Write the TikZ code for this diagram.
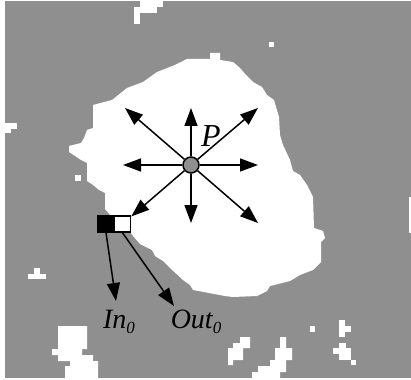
\documentclass[tikz,border=0pt]{standalone}
\usepackage{fontspec}
\setmainfont{Liberation Serif}
\usetikzlibrary{arrows.meta}
\definecolor{ground}{RGB}{143,143,143}
\newcommand\lowidx[1]{\raisebox{-5pt}{\fontsize{17}{17}\selectfont #1}}
\tikzset{
  ray/.style={line width=1.5pt,-{Triangle[length=18pt,width=13pt]}},
  cell/.style={draw,line width=1.5pt,minimum size=16pt,inner sep=0pt},
  lbl/.style={font=\fontsize{28}{30}\selectfont\itshape}
}

\begin{document}
\begin{tikzpicture}[x=1pt,y=-1pt]
\useasboundingbox (0,0) rectangle (411,379);
\fill[ground] (5,1) rectangle (411,378);
\fill[white] (409,197) rectangle (411,233);

% white specks
\fill[white] (134,7) rectangle (140,24);
\fill[white] (140,0) rectangle (157,13);
\fill[white] (157,0) rectangle (163,7);
\fill[white] (269,42) rectangle (274,47);
\fill[white] (5,123) rectangle (17,129);
\fill[white] (5,129) rectangle (11,133);
\fill[white] (75,175) rectangle (81,181);
\fill[white] (28,274) rectangle (46,279);
\fill[white] (34,268) rectangle (40,274);
\fill[white] (58,326) -- (87,326) -- (87,349) -- (82,349) -- (82,355) -- (93,355)
  -- (93,361) -- (98,361) -- (98,378) -- (65,378) -- (65,366) -- (70,366)
  -- (70,361) -- (58,361) -- (58,355) -- (52,355) -- (52,349) -- (58,349) -- cycle;
\fill[white] (240,337) -- (250,337) -- (250,348) -- (243,348) -- (243,360) -- (233,360)
  -- (233,365) -- (228,365) -- (228,348) -- (233,348) -- (233,343) -- (240,343) -- cycle;
\fill[white] (280,337) -- (286,337) -- (286,348) -- (292,348) -- (292,360) -- (286,360)
  -- (286,372) -- (280,372) -- (280,378) -- (252,378) -- (252,372) -- (258,372)
  -- (258,366) -- (270,366) -- (270,360) -- (275,360) -- (275,348) -- (280,348) -- cycle;
\fill[white] (310,326) rectangle (315,332);
\fill[white] (339,320) rectangle (345,337);
\fill[white] (345,326) rectangle (351,332);
\fill[white] (339,343) rectangle (346,348);
\fill[white] (333,348) rectangle (351,354);
\fill[white] (339,354) rectangle (351,360);
\fill[white] (351,360) rectangle (356,365);

% the region
\fill[white] (210,53) -- (220,53) -- (220,60) -- (233,62) -- (240,68) -- (246,75)
  -- (253,82) -- (262,87) -- (267,95) -- (274,100) -- (279,117) -- (280,135)
  -- (283,145) -- (290,160) -- (293,171) -- (300,175) -- (307,185) -- (313,197)
  -- (314,228) -- (323,231) -- (325,238) -- (321,242) -- (321,262) -- (313,270)
  -- (300,275) -- (290,281) -- (270,286) -- (267,291) -- (257,296) -- (233,297)
  -- (225,296) -- (193,290) -- (190,285) -- (183,280) -- (170,268) -- (163,261)
  -- (155,256) -- (152,250) -- (140,244) -- (133,236) -- (130,232) -- (130,215)
  -- (110,215) -- (105,209) -- (105,193) -- (99,190) -- (93,185) -- (87,181)
  -- (87,163) -- (81,160) -- (75,156) -- (69,152) -- (69,146) -- (81,143)
  -- (84,138) -- (87,130) -- (93,128) -- (93,105) -- (112,100) -- (127,88)
  -- (143,82) -- (157,72) -- (175,65) -- (187,59) -- (210,59) -- cycle;

\node[circle,draw,fill=ground,line width=1.5pt,minimum size=16pt,inner sep=0pt] (P) at (191,165) {};
\coordinate (tipN) at (191,108);
\coordinate (tipS) at (191,223);
\coordinate (tipW) at (123,165);
\coordinate (tipE) at (258,165);
\coordinate (tipNW) at (125,108);
\coordinate (tipNE) at (258,108);
\coordinate (tipSE) at (258,223);
\foreach \t in {tipN,tipS,tipW,tipE,tipNW,tipNE,tipSE}
  \draw[ray] (P) -- (\t);

\node[cell,fill=black] (in) at (106,224) {};
\node[cell,fill=white] (out) at (122.5,224) {};
\draw[ray] (P) -- (out);

\coordinate (inTip) at (116,301);
\coordinate (outTip) at (174,306);
\draw[ray] (in.south) -- (inTip);
\draw[ray] (out.south) -- (outTip);

\node[lbl] (inLbl) at (119,322) {In\lowidx{0}};
\node[lbl] (outLbl) at (196,322) {Out\lowidx{0}};
\node[font=\fontsize{32}{34}\selectfont\itshape] (pLbl) at (211,136) {P};
\end{tikzpicture}
\end{document}
